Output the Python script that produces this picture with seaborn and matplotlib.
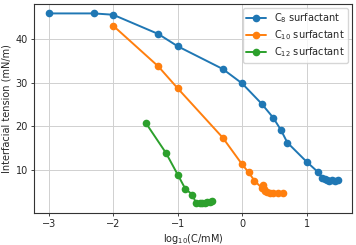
import matplotlib
matplotlib.use('Agg')

import matplotlib.pyplot as plt
import numpy as np
import pandas as pd
import seaborn as sns

# log10 concentration and interfacial tension
c8_x = [-3.0, -2.3, -2.0, -1.3, -1.0, -0.3, 0.0, 0.3, 0.48, 0.6, 0.7, 1.0, 1.18,
        1.24, 1.28, 1.31, 1.35, 1.39, 1.44, 1.48]
c8_y = [45.8, 45.8, 45.5, 41.1, 38.3, 33.1, 29.8, 25.2, 22.0, 19.2, 16.3, 11.9, 9.5,
        8.3, 8.0, 7.8, 7.6, 7.8, 7.6, 7.8]

c10_x = [-2.0, -1.3, -1.0, -0.3, 0.0, 0.10, 0.19, 0.30, 0.32, 0.34, 0.36, 0.38,
         0.43, 0.48, 0.55, 0.63]
c10_y = [43.0, 33.7, 28.7, 17.4, 11.3, 9.5, 7.6, 6.0, 6.6, 5.8, 5.3, 4.9,
         4.8, 4.8, 4.8, 4.8]

c12_x = [-1.49, -1.18, -1.0, -0.88, -0.77, -0.72, -0.66, -0.62, -0.58, -0.54,
         -0.50, -0.47]
c12_y = [20.7, 13.9, 9.0, 5.7, 4.4, 2.6, 2.4, 2.5, 2.6, 2.7, 2.8, 2.9]

labels = [r'C$_{8}$ surfactant', r'C$_{10}$ surfactant', r'C$_{12}$ surfactant']


def buildFrame():
    rows = []
    for name, xs, ys in zip(labels, [c8_x, c10_x, c12_x], [c8_y, c10_y, c12_y]):
        for i, (x, y) in enumerate(zip(xs, ys)):
            rows.append({'logc': x, 'ift': y, 'series': name, 'order': i})
    return pd.DataFrame(rows)


sns.set_style("ticks")
plt.rcParams['font.family'] = ['DejaVu Sans']
plt.rcParams['font.size'] = 7

df = buildFrame()

fig = plt.figure(figsize=(3.56, 2.45), dpi=100)
ax = fig.add_axes([0.096, 0.131, 0.893, 0.853])

sns.lineplot(data=df, x='logc', y='ift', hue='series', hue_order=labels,
             palette=['#1f77b4', '#ff7f0e', '#2ca02c'], sort=False,
             marker='o', markersize=5.5, markeredgewidth=0, linewidth=1.4,
             estimator=None, ax=ax)

ax.grid(True, color='#d0d0d0', linewidth=0.7)
ax.set_axisbelow(True)
for s in ax.spines.values():
    s.set_color('#333333')
    s.set_linewidth(0.8)
ax.tick_params(labelsize=7, length=2.5, width=0.6, pad=2)
ax.set_xticks([-3, -2, -1, 0, 1])
ax.set_yticks([10, 20, 30, 40])
ax.set_xlabel(r'log$_{10}$(C/mM)', fontsize=7, labelpad=2)
ax.set_ylabel('Interfacial tension (mN/m)', fontsize=7, labelpad=3)

ax.legend(loc='upper right', fontsize=7, frameon=True, borderpad=0.4,
          handlelength=2.0, labelspacing=0.3, borderaxespad=0.4)

plt.savefig("out.png", dpi=100)
plt.close()
